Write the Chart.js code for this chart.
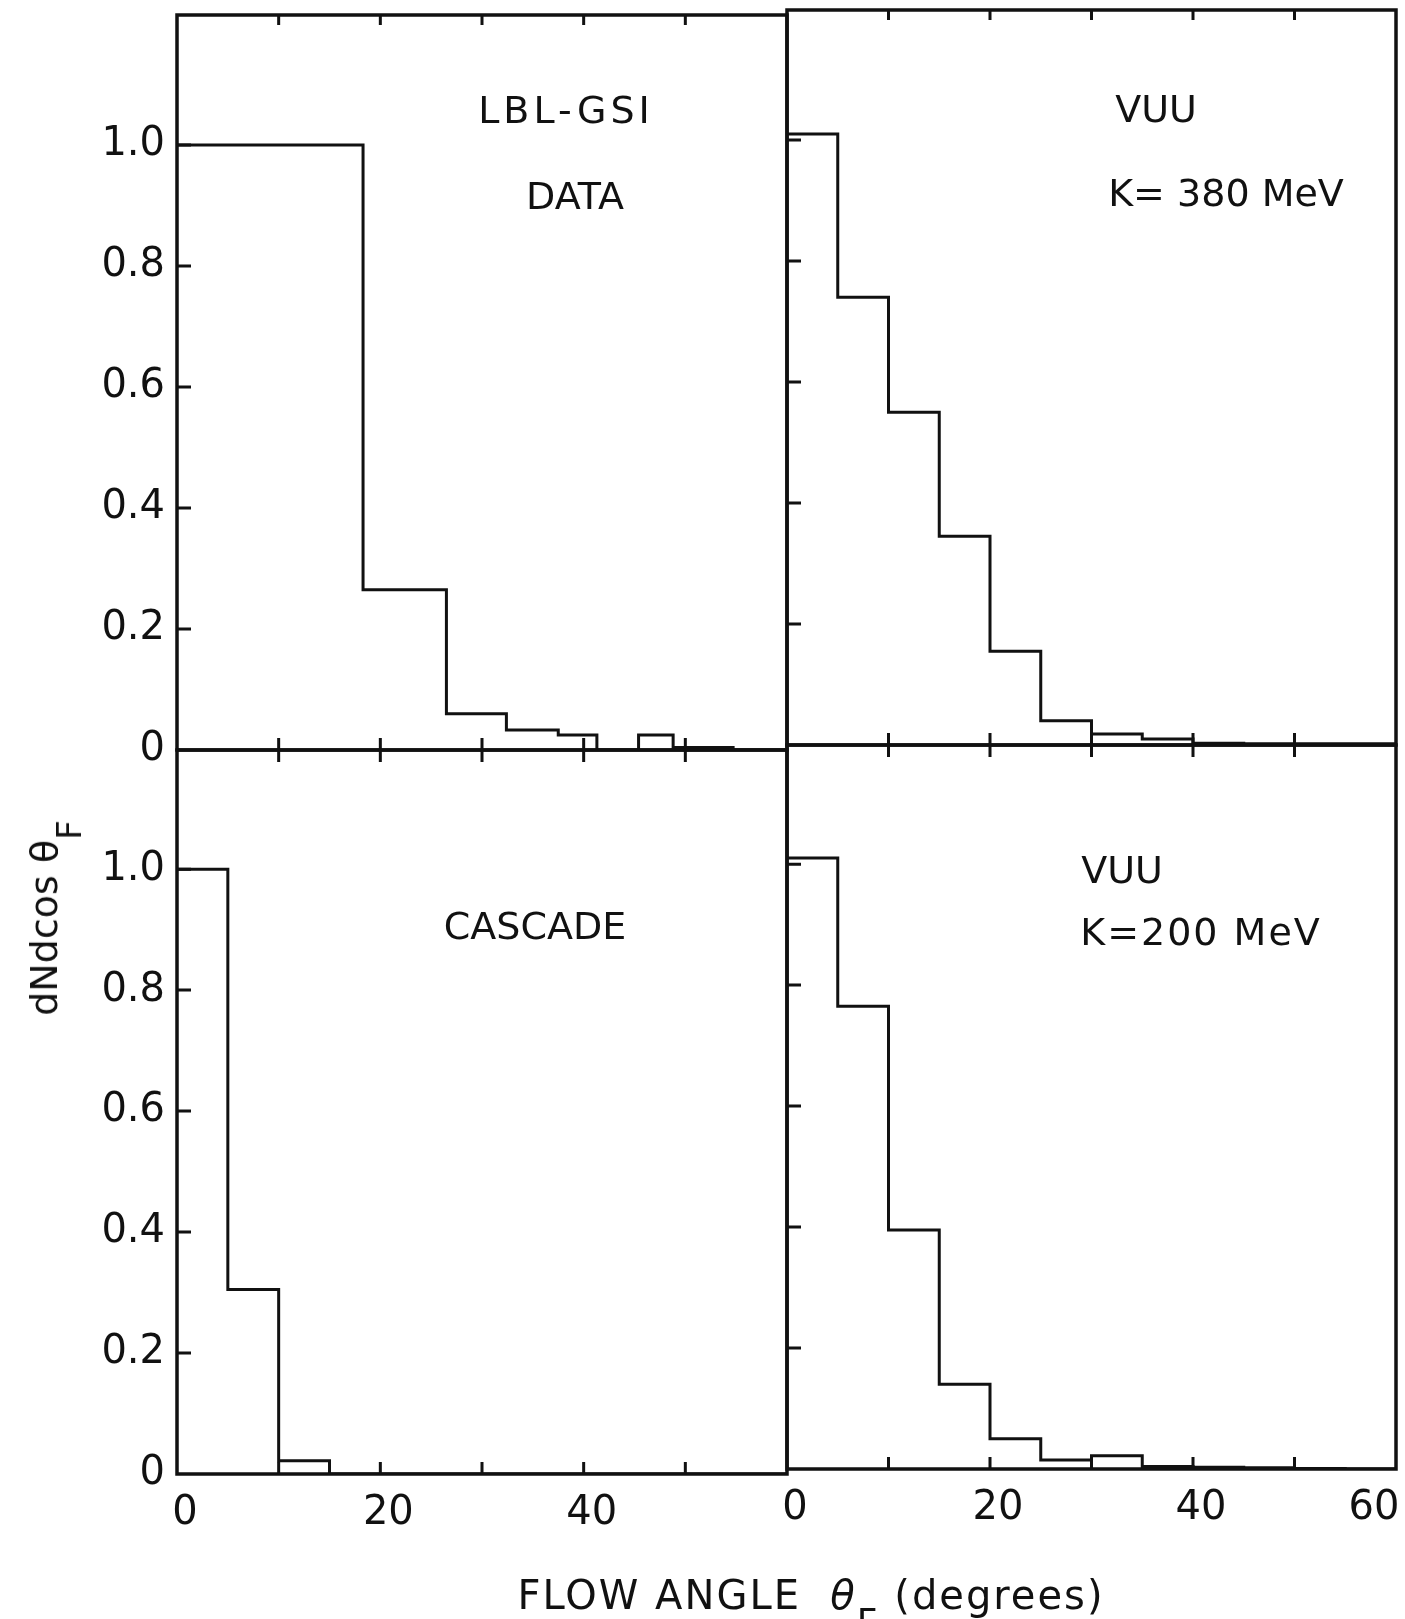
<!DOCTYPE html>
<html>
<head>
<meta charset="utf-8">
<script src="https://cdn.jsdelivr.net/npm/chart.js@4.4.1/dist/chart.umd.min.js"></script>
<style>
  body { margin: 0; background: #fff; }
  #page { position: relative; width: 1405px; height: 1619px; overflow: hidden; font-family: 'DejaVu Sans', sans-serif; color: #111; }
  #page canvas { position: absolute; left: 0; top: 0; }
  .note { position: absolute; font-size: 38px; line-height: 1; white-space: nowrap; transform: translate(-50%, -50%); }
  #ytitle { position: absolute; left: 44px; top: 918px; font-size: 38px; line-height: 1; white-space: nowrap; transform: translate(-50%, -50%) rotate(-90deg); }
  #xtitle { position: absolute; left: 811px; top: 1595px; font-size: 40px; line-height: 1; white-space: nowrap; transform: translate(-50%, -50%); letter-spacing: 2px; }
  .sub { position: relative; top: 0.7em; font-size: 0.9em; }
</style>
</head>
<body>
<div id="page">
  <canvas id="topLeft" width="1405" height="1619"></canvas>
  <canvas id="topRight" width="1405" height="1619"></canvas>
  <canvas id="bottomLeft" width="1405" height="1619"></canvas>
  <canvas id="bottomRight" width="1405" height="1619"></canvas>

  <div class="note" style="left:566px;top:110px;letter-spacing:4px">LBL-GSI</div>
  <div class="note" style="left:575px;top:196px">DATA</div>
  <div class="note" style="left:1156px;top:109px">VUU</div>
  <div class="note" style="left:1226px;top:193px">K= 380 MeV</div>
  <div class="note" style="left:535px;top:926px">CASCADE</div>
  <div class="note" style="left:1122px;top:870px">VUU</div>
  <div class="note" style="left:1201px;top:932px;letter-spacing:2px">K=200 MeV</div>

  <div id="ytitle">dNdcos θ<span class="sub">F</span></div>
  <div id="xtitle">FLOW ANGLE&nbsp;&nbsp;<i>θ</i><span class="sub">F</span> (degrees)</div>
</div>
<script>
// histogram bin edges (degrees) and heights
const dataEdges = [0, 18.3, 26.5, 32.4, 37.5, 41.3, 45.4, 48.8, 54.7, 60];
const dataValues = [1.0, 0.265, 0.06, 0.033, 0.025, 0, 0.025, 0.004, 0];

const fiveDegEdges = [0, 5, 10, 15, 20, 25, 30, 35, 40, 45, 50, 55, 60];
const cascadeValues = [1.0, 0.305, 0.022, 0, 0, 0, 0, 0, 0, 0, 0, 0];
const vuu380Values = [1.01, 0.74, 0.55, 0.345, 0.155, 0.04, 0.018, 0.01, 0.003, 0.002, 0.002, 0.002];
const vuu200Values = [1.01, 0.765, 0.395, 0.14, 0.05, 0.015, 0.022, 0.004, 0.003, 0.002, 0.001, 0];

const yTickValues = [0.2, 0.4, 0.6, 0.8, 1.0];
const xTickValues = [10, 20, 30, 40, 50];
const xLabelsLeft = [0, 20, 40];
const xLabelsRight = [0, 20, 40, 60];

const INK = '#111';
const Y_AXIS_W = 150;
const X_AXIS_H = 60;

// box around each panel plus inward tick marks
const framePlugin = {
  id: 'frame',
  afterDraw(chart, args, opts) {
    const { ctx, chartArea: a, scales: { x, y } } = chart;
    ctx.save();
    ctx.strokeStyle = INK;
    ctx.lineWidth = 3.5;
    ctx.strokeRect(a.left, a.top, a.right - a.left, a.bottom - a.top);
    ctx.lineWidth = 3;
    ctx.beginPath();
    yTickValues.forEach(v => {
      const py = y.getPixelForValue(v);
      ctx.moveTo(a.left, py);
      ctx.lineTo(a.left + 14, py);
    });
    xTickValues.forEach(v => {
      const px = x.getPixelForValue(v);
      ctx.moveTo(px, a.top);
      ctx.lineTo(px, a.top + opts.topTick);
      ctx.moveTo(px, a.bottom);
      ctx.lineTo(px, a.bottom - 12);
    });
    ctx.stroke();
    ctx.restore();
  }
};

function makeChart(id, edges, values, p) {
  const points = edges.map((e, i) => ({ x: e, y: i < values.length ? values[i] : 0 }));
  return new Chart(document.getElementById(id), {
    type: 'line',
    data: {
      datasets: [{
        data: points,
        stepped: true,
        borderColor: INK,
        borderWidth: 3,
        pointRadius: 0,
        fill: false
      }]
    },
    options: {
      responsive: false,
      animation: false,
      events: [],
      layout: {
        padding: {
          left: p.left - (p.yLabels ? Y_AXIS_W : 0),
          top: p.top,
          right: 1405 - p.right,
          bottom: 1619 - p.bottom - (p.xLabels ? X_AXIS_H : 0)
        }
      },
      plugins: {
        legend: { display: false },
        tooltip: { enabled: false },
        frame: { topTick: p.topTick }
      },
      scales: {
        x: {
          type: 'linear',
          min: 0,
          max: 60,
          display: !!p.xLabels,
          grid: { display: false, drawTicks: false },
          border: { display: false },
          ticks: {
            stepSize: 10,
            autoSkip: false,
            maxRotation: 0,
            padding: 16,
            labelOffset: 8,
            color: INK,
            font: { family: 'DejaVu Sans', size: 40 },
            callback: v => {
              if (!p.xLabels || !p.xLabels.includes(v)) return '';
              // last label is pulled in so it stays on the page
              return v === 60 ? '60\u2003\u2002' : String(v);
            }
          },
          afterFit: s => { s.height = p.xLabels ? X_AXIS_H : 0; s.paddingLeft = 0; s.paddingRight = 0; }
        },
        y: {
          type: 'linear',
          min: 0,
          max: p.yMax,
          display: p.yLabels,
          grid: { display: false, drawTicks: false },
          border: { display: false },
          ticks: {
            stepSize: 0.2,
            includeBounds: false,
            padding: 12,
            color: INK,
            font: { family: 'DejaVu Sans', size: 40 },
            callback: v => v > 1.05 ? '' : (v === 0 ? '0' : v.toFixed(1))
          },
          afterFit: s => { s.width = p.yLabels ? Y_AXIS_W : 0; s.paddingTop = 0; s.paddingBottom = 0; }
        }
      }
    },
    plugins: [framePlugin]
  });
}

makeChart('topLeft', dataEdges, dataValues,
  { left: 177, top: 15, right: 787, bottom: 750, yMax: 1.215, yLabels: true, xLabels: null, topTick: 10 });
makeChart('topRight', fiveDegEdges, vuu380Values,
  { left: 787, top: 10, right: 1396, bottom: 745, yMax: 1.215, yLabels: false, xLabels: null, topTick: 10 });
makeChart('bottomLeft', fiveDegEdges, cascadeValues,
  { left: 177, top: 750, right: 787, bottom: 1474, yMax: 1.197, yLabels: true, xLabels: xLabelsLeft, topTick: 12 });
makeChart('bottomRight', fiveDegEdges, vuu200Values,
  { left: 787, top: 745, right: 1396, bottom: 1469, yMax: 1.197, yLabels: false, xLabels: xLabelsRight, topTick: 12 });
</script>
</body>
</html>
